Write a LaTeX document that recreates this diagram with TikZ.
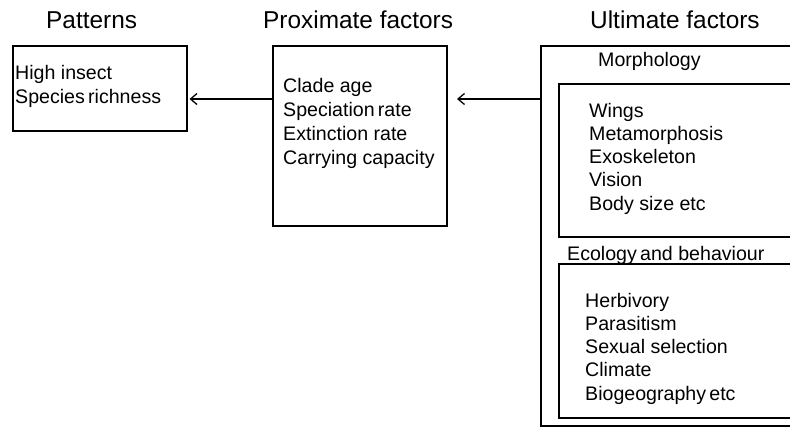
\documentclass[tikz,border=0pt]{standalone}
\usepackage{fontspec}
\setmainfont{Liberation Sans}
\usetikzlibrary{arrows.meta}
\begin{document}
\begin{tikzpicture}[x=1pt,y=-1pt,
  box/.style={draw=black,line width=2pt,inner sep=0pt,anchor=north west},
  ibox/.style={draw=black,line width=1.8pt,inner sep=0pt,anchor=north west},
  hdr/.style={anchor=base west,inner sep=0pt,font=\fontsize{24.4}{28}\selectfont},
  txt/.style={anchor=base west,inner sep=0pt,align=left,font=\fontsize{19.6}{23.8}\selectfont},
  lst/.style={anchor=base west,inner sep=0pt,align=left,font=\fontsize{19.6}{23.2}\selectfont},
  arr/.style={line width=1.3pt,-{Straight Barb[length=6.5pt,width=11pt,line width=1.3pt]}}]
\useasboundingbox (0,0) rectangle (790,429);
% headers
\node[hdr] (hpat) at (46,28) {Patterns};
\node[hdr] (hprox) at (263,28) {Proximate factors};
\node[hdr] (hult) at (590,28) {Ultimate factors};
% boxes
\node[box,minimum width=174pt,minimum height=85pt] (pat) at (12,45) {};
\node[box,minimum width=174pt,minimum height=180pt] (prox) at (272,45) {};
\node[box,minimum width=260pt,minimum height=380pt] (ult) at (540,45) {};
\node[ibox,minimum width=232pt,minimum height=153pt] (morph) at (558,83) {};
\node[ibox,minimum width=232pt,minimum height=154pt] (eco) at (558,263) {};
% texts (anchored at the baseline of the last line)
\node[txt] (tpat) at (15,103.3) {High insect\\Species\,richness};
\node[txt] (tprox) at (283,164) {Clade age\\Speciation\,rate\\Extinction rate\\Carrying capacity};
\node[txt] (tmorphh) at (598,66.7) {Morphology};
\node[lst] (tmorph) at (589,210) {Wings\\Metamorphosis\\Exoskeleton\\Vision\\Body size etc};
\node[txt] (tecoh) at (567,260) {Ecology\,and behaviour};
\node[lst] (teco) at (585,400) {Herbivory\\Parasitism\\Sexual selection\\Climate\\Biogeography\,etc};
% arrows
\coordinate (yarr) at (0,99);
\draw[arr] (yarr -| prox.west) -- ([xshift=1.5pt]yarr -| pat.east);
\draw[arr] (yarr -| ult.west) -- ([xshift=9pt]yarr -| prox.east);
\end{tikzpicture}
\end{document}
